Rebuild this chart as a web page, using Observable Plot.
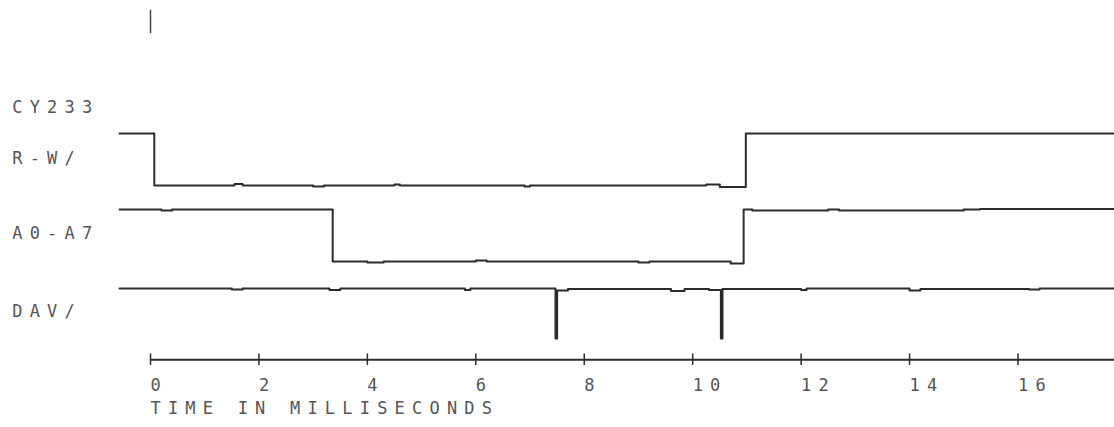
<!DOCTYPE html>
<html><head><meta charset="utf-8">
<script src="https://cdn.jsdelivr.net/npm/d3@7"></script>
<script src="https://cdn.jsdelivr.net/npm/@observablehq/plot@0.6"></script>
<style>html,body{margin:0;padding:0;background:#fff}</style>
</head><body><div id="chart"></div>
<script>
// ---- data ----
const deviceLabel = "CY233";
const channelNames = ["R-W/", "A0-A7", "DAV/"];
const channelOffsets = [0, -1.46, -2.98];      // low logic level of each trace
const channelLabelLevels = [0.52, -0.92, -2.42];

// R-W/ : time (ms) and logic level (step-after)
const rwTimes  = [-0.57, 0.07, 1.55, 1.7, 3.0, 3.2, 4.5, 4.6, 6.9, 7.0, 10.25, 10.5, 10.98, 17.8];
const rwLevels = [1, 0, 0.03, 0, -0.02, 0, 0.02, 0, -0.02, 0, 0.02, -0.03, 1, 1];

// A0-A7
const aTimes  = [-0.57, 0.2, 0.4, 3.36, 4.0, 4.3, 6.0, 6.2, 9.0, 9.2, 10.7, 10.94, 11.1, 12.5, 12.7, 15.0, 15.3, 17.8];
const aLevels = [1, 0.98, 1, 0, -0.02, 0, 0.02, 0, -0.02, 0, -0.04, 1, 0.98, 1, 0.98, 1, 1.01, 1];

// DAV/
const dTimes  = [-0.57, 1.5, 1.7, 3.3, 3.5, 5.8, 5.9, 7.47, 7.50, 7.7, 9.6, 9.85, 10.3, 10.52, 10.55, 12.0, 12.1, 14.0, 14.2, 16.2, 16.4, 17.8];
const dLevels = [1, 0.98, 1, 0.97, 1, 0.97, 1, 0.04, 0.96, 0.99, 0.95, 0.99, 0.97, 0.04, 0.99, 0.97, 1, 0.96, 0.99, 0.98, 1, 1];

// time axis
const axisLevel = -3.35;
const axisStart = 0, axisEnd = 17.8;
const tickValues = [0, 2, 4, 6, 8, 10, 12, 14, 16];
const tickLabels = ["0", "2", "4", "6", "8", "10", "12", "14", "16"];
const tickLabelLevel = -3.85;
const axisTitle = "TIME IN MILLISECONDS";
const axisTitleLevel = -4.28;
const triggerTime = 0;
const triggerFrom = 2.92, triggerTo = 3.37;
const labelTime = -2.55;

// ---- build rows ----
const traces = [[rwTimes, rwLevels], [aTimes, aLevels], [dTimes, dLevels]];
const rows = [];
traces.forEach(([ts, ls], i) => ts.forEach((t, j) => rows.push({ch: channelNames[i], t, v: channelOffsets[i] + ls[j]})));

const ink = "#2b2b2b", textInk = "#555";
const font = "DejaVu Sans Mono";
const fs = 17;

const chart = Plot.plot({
  width: 1114, height: 427,
  margin: 0,
  x: {domain: [0, 17.78], range: [150, 1114]},
  y: {domain: [0, 1], range: [185, 133]},
  axis: null,
  style: {background: "#fff", letterSpacing: "7.2px"},
  marks: [
    Plot.line(rows, {x: "t", y: "v", z: "ch", curve: "step-after", stroke: ink, strokeWidth: 2}),
    Plot.ruleY([axisLevel], {x1: axisStart, x2: axisEnd, stroke: ink, strokeWidth: 2}),
    Plot.ruleX(tickValues, {y1: axisLevel - 0.11, y2: axisLevel + 0.11, stroke: ink, strokeWidth: 1.5}),
    Plot.ruleX([triggerTime], {y1: triggerFrom, y2: triggerTo, stroke: "#444", strokeWidth: 1.5}),
    Plot.text(tickValues, {x: d => d, y: tickLabelLevel, text: (d, i) => tickLabels[i], textAnchor: "start", fill: textInk, fontFamily: font, fontSize: fs}),
    Plot.text([axisTitle], {x: 0, y: axisTitleLevel, text: d => d, textAnchor: "start", fill: textInk, fontFamily: font, fontSize: fs}),
    Plot.text(channelNames, {x: labelTime, y: (d, i) => channelLabelLevels[i], text: d => d, textAnchor: "start", fill: textInk, fontFamily: font, fontSize: fs}),
    Plot.text([deviceLabel], {x: labelTime, y: 1.5, text: d => d, textAnchor: "start", fill: textInk, fontFamily: font, fontSize: fs})
  ]
});
document.getElementById("chart").appendChild(chart);
</script>
</body></html>
